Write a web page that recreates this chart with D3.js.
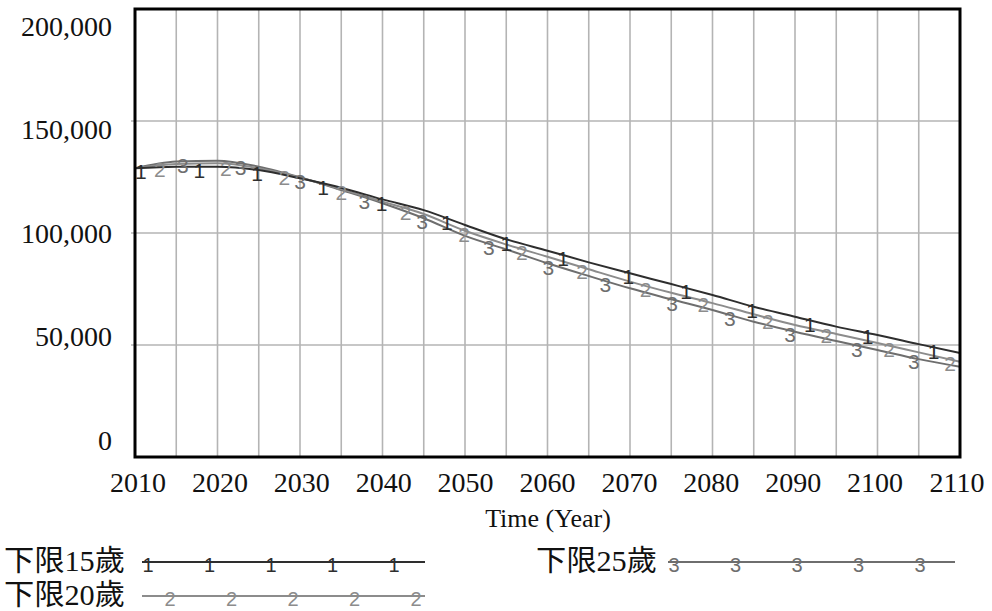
<!DOCTYPE html>
<html><head><meta charset="utf-8">
<script src="https://cdn.jsdelivr.net/npm/d3@7/dist/d3.min.js"></script>
<style>
html,body{margin:0;padding:0;background:#fff;}
svg{display:block;}
</style></head>
<body>
<svg id="chart" width="992" height="611"></svg>
<script>
// ---- data ----
const years = [2010,2015,2020,2025,2030,2035,2040,2045,2050,2055,2060,2065,2070,2075,2080,2085,2090,2095,2100,2105,2110];
const series1 = [128900,129600,129600,128100,124400,120200,115000,110200,103600,97200,92100,86900,82000,77200,72300,67100,62600,58200,54500,50400,46400];
const series2 = [128900,130800,131100,128900,124700,119600,114000,108500,101000,94900,89400,83800,78300,73300,68700,63700,58900,54900,50900,46700,42500];
const series3 = [128900,131900,132300,129600,124900,119200,113300,106600,98700,92700,86500,80800,75300,70400,65600,60400,55900,51800,47800,43700,40300];
const seriesNames = ["下限15歲","下限20歲","下限25歲"];
const seriesMarks = ["1","2","3"];
const markerYears1 = [2010.7,2017.8,2024.8,2032.8,2039.9,2047.8,2055,2061.9,2069.8,2076.8,2084.8,2091.8,2098.8,2106.8];
const markerYears2 = [2013,2021,2028.1,2035,2042.8,2049.9,2056.9,2064.2,2071.9,2078.9,2086.7,2093.8,2101.4,2108.8];
const markerYears3 = [2015.8,2022.8,2030,2037.8,2044.8,2052.9,2060.1,2067,2075.1,2082.1,2089.4,2097.5,2104.4];
const yTicks = [0,50000,100000,150000,200000];
const xTicks = [2010,2020,2030,2040,2050,2060,2070,2080,2090,2100,2110];
const xGrid = d3.range(2010,2111,5);
const xTitle = "Time (Year)";

// ---- layout ----
const L = 135, R = 960, T = 9, B = 457;
const colors = ["#2e2e2e","#8c8c8c","#6e6e6e"];
const svg = d3.select("#chart");
const x = d3.scaleLinear().domain([2010,2110]).range([L,R]);
const y = d3.scaleLinear().domain([0,200000]).range([B,T]);
const yLab = d3.scaleLinear().domain([0,200000]).range([440,26]);
const serif = "'Liberation Serif','Times New Roman','Noto Sans CJK TC',serif";

// grid
svg.append("g").selectAll("line").data(xGrid.slice(1,-1)).join("line")
  .attr("x1",d=>x(d)).attr("x2",d=>x(d)).attr("y1",T).attr("y2",B)
  .attr("stroke","#b4b4b4").attr("stroke-width",1.6);
svg.append("g").selectAll("line").data(yTicks.slice(1,-1)).join("line")
  .attr("x1",L-4).attr("x2",R).attr("y1",d=>y(d)).attr("y2",d=>y(d))
  .attr("stroke","#b4b4b4").attr("stroke-width",1.6);

// y labels
svg.append("g").selectAll("text").data(yTicks).join("text")
  .attr("x",112).attr("y",d=>yLab(d)).attr("dy","0.35em")
  .attr("text-anchor","end").attr("font-family",serif).attr("font-size",28)
  .attr("fill","#111").text(d=>d3.format(",")(d));

// x labels
svg.append("g").selectAll("text").data(xTicks).join("text")
  .attr("x",d=>x(d)-3*(d-2060)/50).attr("y",492)
  .attr("text-anchor","middle").attr("font-family",serif).attr("font-size",28)
  .attr("fill","#111").text(d=>d);
svg.append("text").attr("x",548).attr("y",527).attr("text-anchor","middle")
  .attr("font-family",serif).attr("font-size",26).attr("fill","#111").text(xTitle);

// lines
const allSeries = [series1,series2,series3];
const markerYears = [markerYears1,markerYears2,markerYears3];
const line = d3.line().x((d,i)=>x(years[i])).y(d=>y(d)).curve(d3.curveMonotoneX);
const clipG = svg.append("g");
function valueAt(vals, yr){
  const interp = d3.scaleLinear().domain(years).range(vals);
  return interp(yr);
}
[2,1,0].forEach(k=>{
  clipG.append("path").datum(allSeries[k]).attr("d",line)
    .attr("fill","none").attr("stroke",colors[k]).attr("stroke-width",2);
});
[2,1,0].forEach(k=>{
  clipG.append("g").selectAll("text").data(markerYears[k]).join("text")
    .attr("x",d=>x(d)).attr("y",d=>y(valueAt(allSeries[k],d))+4)
    .attr("dy","0.35em").attr("text-anchor","middle")
    .attr("font-family","'Liberation Sans',Arial,sans-serif").attr("font-size",21)
    .attr("fill",colors[k]).text(seriesMarks[k]);
});

// frame
svg.append("rect").attr("x",L).attr("y",T).attr("width",R-L).attr("height",B-T)
  .attr("fill","none").attr("stroke","#000").attr("stroke-width",3);

// legend
const legend = [
  {name:seriesNames[0], tx:4, ty:571, lx1:142, lx2:425, ly:562, start:6},
  {name:seriesNames[1], tx:4, ty:605, lx1:142, lx2:425, ly:596, start:28},
  {name:seriesNames[2], tx:536, ty:571, lx1:668, lx2:955, ly:562, start:6}
];
legend.forEach((lg,k)=>{
  svg.append("text").attr("x",lg.tx).attr("y",lg.ty)
    .attr("font-family",serif).attr("font-size",29).attr("textLength",121)
    .attr("lengthAdjust","spacingAndGlyphs").attr("fill","#111").text(lg.name);
  svg.append("line").attr("x1",lg.lx1).attr("x2",lg.lx2).attr("y1",lg.ly).attr("y2",lg.ly)
    .attr("stroke",colors[k]).attr("stroke-width",2);
  svg.append("g").selectAll("text").data(d3.range(5)).join("text")
    .attr("x",i=>lg.lx1+lg.start+i*61.5).attr("y",lg.ly+3).attr("dy","0.35em")
    .attr("text-anchor","middle").attr("font-family","'Liberation Sans',Arial,sans-serif")
    .attr("font-size",20).attr("fill",colors[k]).text(seriesMarks[k]);
});
</script>
</body></html>
